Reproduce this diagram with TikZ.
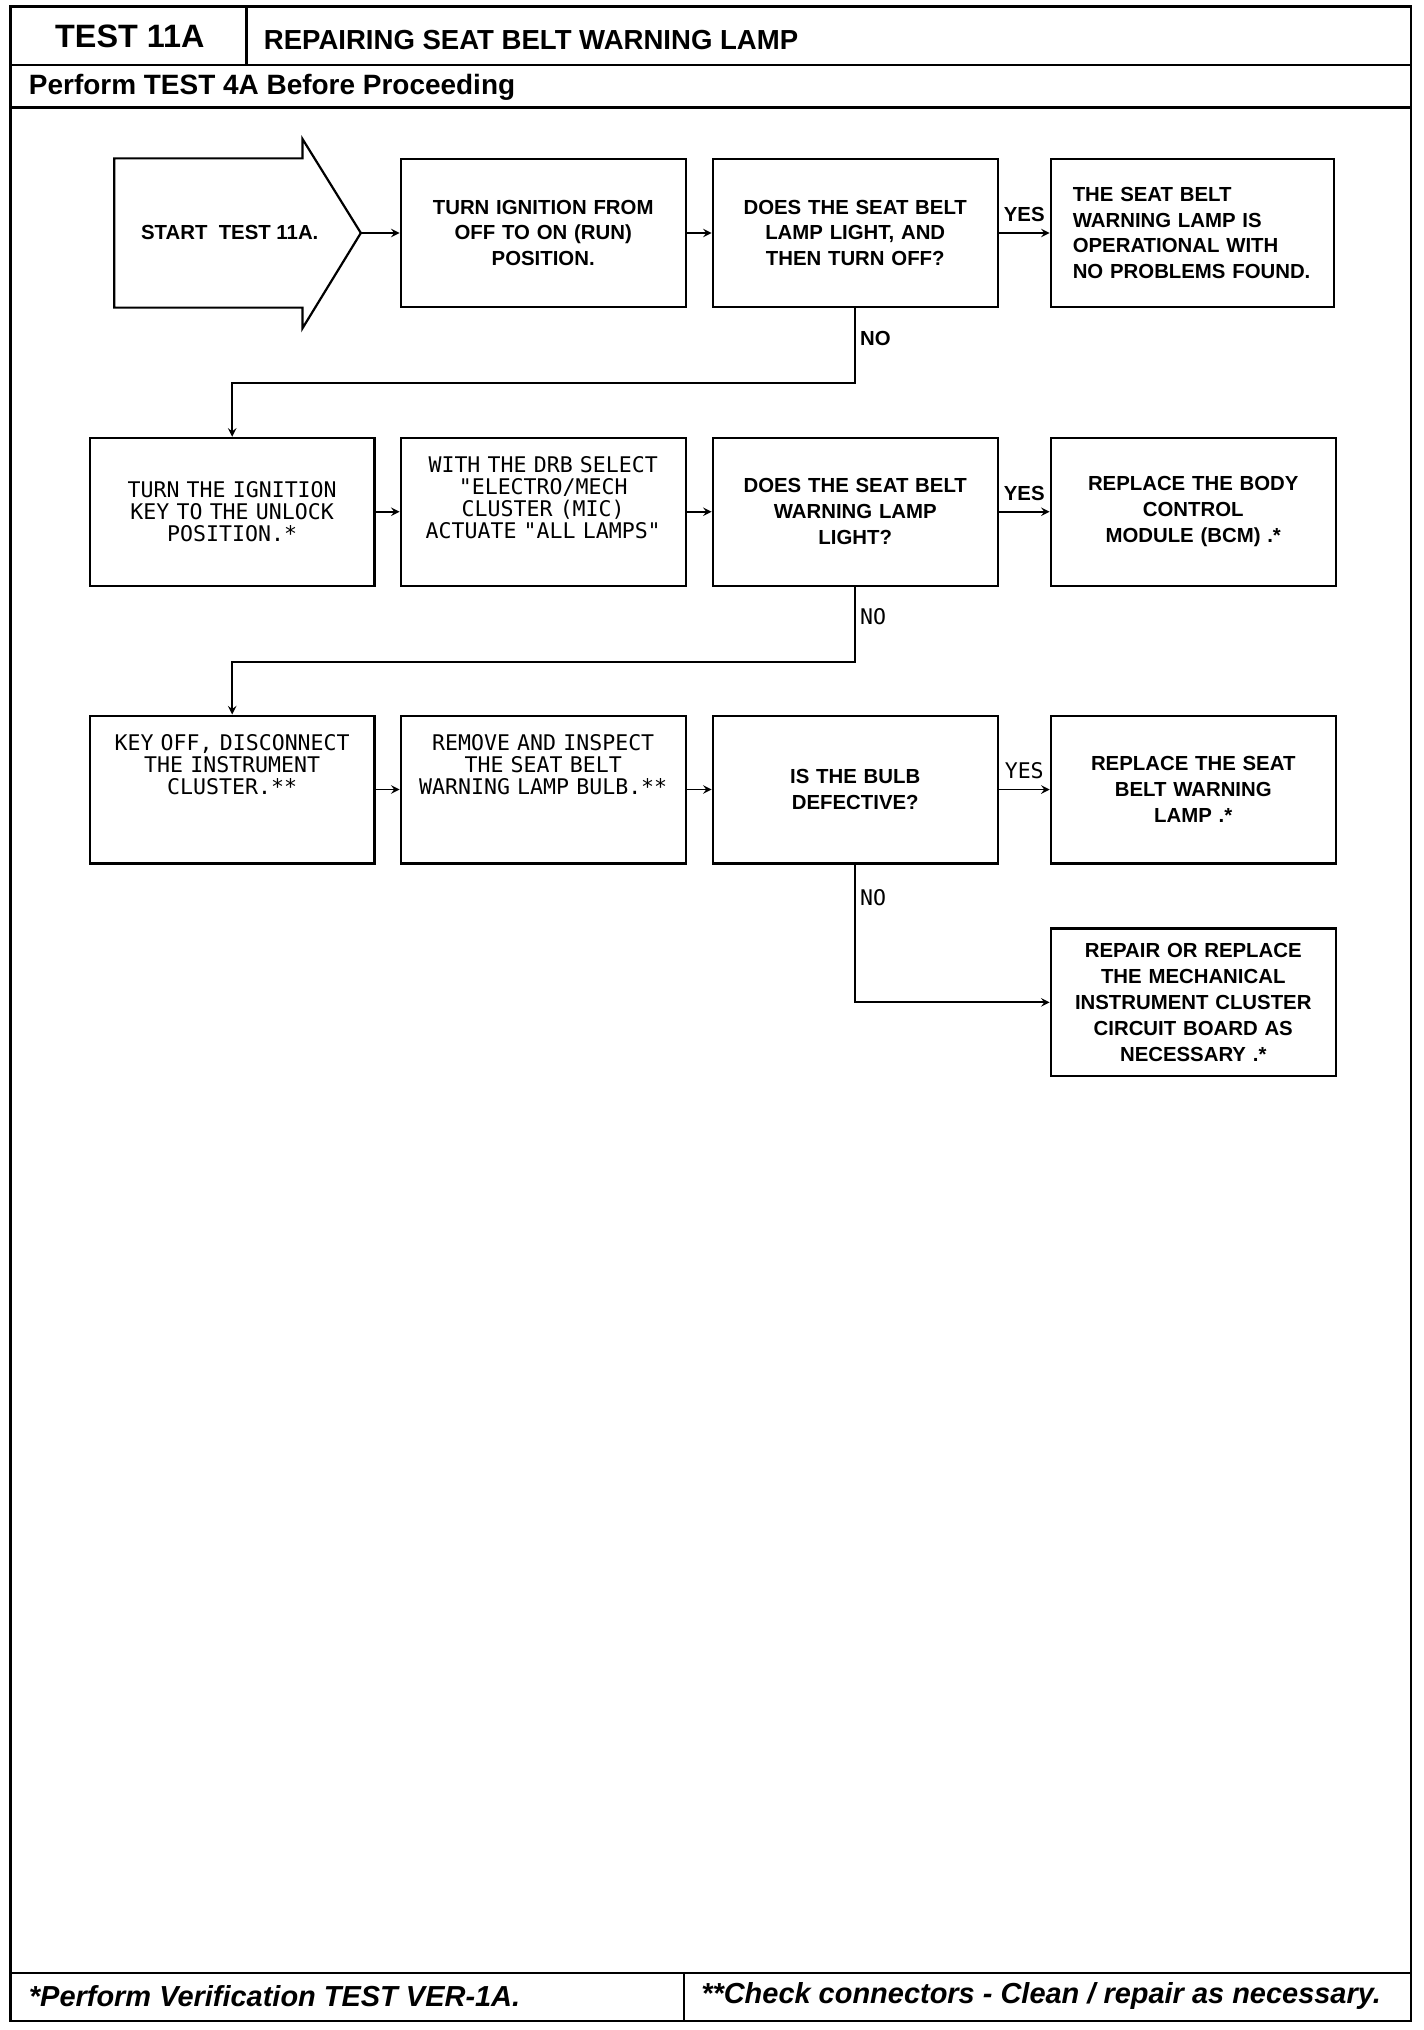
\documentclass[tikz,border=0pt]{standalone}
\usepackage{fontspec}
\setmainfont{Liberation Sans}
\newfontfamily\dotfont{DejaVu Sans Mono}
\usetikzlibrary{arrows,positioning}

% text hung from the top of a box
\newcommand{\toptext}[1]{\parbox[c][55pt][t]{136pt}{\centering #1}}

\begin{document}
\begin{tikzpicture}[
    x=0.65pt, y=-0.65pt,
    box/.style={rectangle, draw, line width=1.1pt, text width=136pt, align=center, minimum width=142pt, minimum height=74pt, font=\bfseries\fontsize{10.2}{13}\selectfont},
    dotbox/.style={box, font=\dotfont\fontsize{10.8}{11}\selectfont},
    arrow/.style={line width=0.9pt,->,>=stealth},
    lbl/.style={font=\bfseries\fontsize{10.2}{12}\selectfont, inner sep=2pt},
    dotlbl/.style={font=\dotfont\fontsize{10.8}{12}\selectfont, inner sep=2pt},
    frame/.style={line width=1.2pt}
]
\useasboundingbox (0,0) rectangle (1097,1564);

% Frame
\draw[frame] (8,5) rectangle (1087,1557);
\draw[frame] (8,50) -- (1087,50);
\draw[line width=1.6pt] (8,83) -- (1087,83);
\draw[frame] (190,5) -- (190,50);
\draw[frame] (8,1520) -- (1087,1520);
\draw[frame] (527,1520) -- (527,1557);

% Header
\node[font=\bfseries\fontsize{16.2}{18}\selectfont] (testno) at (100,28) {TEST 11A};
\node[anchor=west, inner sep=0, font=\bfseries\fontsize{13.8}{16}\selectfont] (title) at (203,31) {REPAIRING SEAT BELT WARNING LAMP};
\node[anchor=west, inner sep=0, font=\bfseries\fontsize{14}{16}\selectfont] (before) at (22,67) {Perform TEST 4A Before Proceeding};

% Start
\draw[line width=1.1pt] (88,122) -- (233,122) -- (233,107) -- (278,179.5) -- (233,253) -- (233,237) -- (88,237) -- cycle;
\coordinate (tip) at (278,179.5);
\node[font=\bfseries\fontsize{10.2}{13}\selectfont] (start) at (177,179.5) {START~~TEST 11A.};

% Row 1
\node[box] (turn) at (418.5,179.5) {TURN IGNITION FROM\\OFF TO ON (RUN)\\POSITION.};
\node[box, right=12.5pt of turn] (lamp1) {DOES THE SEAT BELT\\LAMP LIGHT, AND\\THEN TURN OFF?};
\node[box, right=25.5pt of lamp1, text width=120pt, align=left] (okay) {THE SEAT BELT\\WARNING LAMP IS\\OPERATIONAL WITH\\NO PROBLEMS FOUND.};

% Row 2
\node[dotbox, below=64.5pt of turn] (drb) {\toptext{WITH THE DRB SELECT\\"ELECTRO/MECH\\CLUSTER (MIC)\\ACTUATE "ALL LAMPS"}};
\node[dotbox, left=12pt of drb] (unlock) {TURN THE IGNITION\\KEY TO THE UNLOCK\\POSITION.*};
\node[box, right=12.5pt of drb] (lamp2) {DOES THE SEAT BELT\\WARNING LAMP\\LIGHT?};
\node[box, right=25.5pt of lamp2] (bcm) {REPLACE THE BODY\\CONTROL\\MODULE (BCM) .*};

% Row 3
\node[dotbox, below=64pt of unlock] (keyoff) {\toptext{KEY OFF, DISCONNECT\\THE INSTRUMENT\\CLUSTER.**}};
\node[dotbox, right=12pt of keyoff] (inspect) {\toptext{REMOVE AND INSPECT\\THE SEAT BELT\\WARNING LAMP BULB.**}};
\node[box, right=12.5pt of inspect] (bulb) {IS THE BULB\\DEFECTIVE?};
\node[box, right=25.5pt of bulb] (newlamp) {REPLACE THE SEAT\\BELT WARNING\\LAMP .*};

% Row 4
\node[box, below=31.5pt of newlamp] (board) {REPAIR OR REPLACE\\THE MECHANICAL\\INSTRUMENT CLUSTER\\CIRCUIT BOARD AS\\NECESSARY .*};

% Arrows
\draw[arrow] (tip) -- (turn);
\draw[arrow] (turn) -- (lamp1);
\draw[arrow] (lamp1) -- node[lbl, above=3pt] {YES} (okay);
\draw[arrow] (lamp1.south) -- node[lbl, right, pos=0.4] {NO} ++(0,58) -| (unlock.north);
\draw[arrow] (unlock) -- (drb);
\draw[arrow] (drb) -- (lamp2);
\draw[arrow] (lamp2) -- node[lbl, above=3pt] {YES} (bcm);
\draw[arrow] (lamp2.south) -- node[dotlbl, right, pos=0.4] {NO} ++(0,58) -| (keyoff.north);
\draw[arrow] (keyoff) -- (inspect);
\draw[arrow] (inspect) -- (bulb);
\draw[arrow] (bulb) -- node[dotlbl, above=3pt] {YES} (newlamp);
\draw[arrow] (bulb.south) |- node[dotlbl, right, pos=0.12] {NO} (board.west);

% Footer
\node[anchor=west, inner sep=0, font=\bfseries\itshape\fontsize{14.5}{16}\selectfont] (verify) at (22,1538) {*Perform Verification TEST VER-1A.};
\node[anchor=west, inner sep=0, font=\bfseries\itshape\fontsize{14.5}{16}\selectfont] (connectors) at (540,1538) {**Check connectors - Clean / repair as necessary.};

\end{tikzpicture}
\end{document}
